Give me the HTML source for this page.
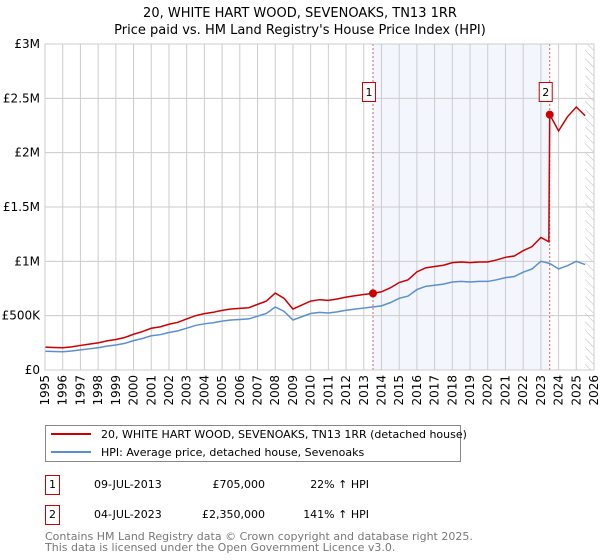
<!DOCTYPE html>
<html><head><meta charset="utf-8"><style>
body{margin:0;background:#fff;font-family:"Liberation Sans","DejaVu Sans",sans-serif;}
svg{display:block}
</style></head><body>
<svg id="c" width="600" height="560" xmlns="http://www.w3.org/2000/svg" font-family="DejaVu Sans, Liberation Sans, sans-serif">
<text x="300" y="17" text-anchor="middle" font-size="13">20, WHITE HART WOOD, SEVENOAKS, TN13 1RR</text>
<text x="300" y="34" text-anchor="middle" font-size="13">Price paid vs. HM Land Registry's House Price Index (HPI)</text>
<g id="plot"></g>
<g>
<rect x="45.5" y="425.5" width="415" height="36" fill="#fff" stroke="#888"/>
<line x1="51" y1="434" x2="91" y2="434" stroke="#cc0000" stroke-width="2"/>
<text x="101" y="438" font-size="11">20, WHITE HART WOOD, SEVENOAKS, TN13 1RR (detached house)</text>
<line x1="51" y1="452" x2="91" y2="452" stroke="#5b8fd0" stroke-width="2"/>
<text x="101" y="456" font-size="11">HPI: Average price, detached house, Sevenoaks</text>
</g>
<g font-size="11">
<rect x="45.5" y="475.5" width="14" height="19" fill="#fff" stroke="#cc0000"/>
<text x="52.5" y="488" text-anchor="middle">1</text>
<text x="94" y="488">09-JUL-2013</text>
<text x="265" y="488" text-anchor="end">£705,000</text>
<text x="369" y="488" text-anchor="end">22% ↑ HPI</text>
<rect x="45.5" y="505.5" width="14" height="19" fill="#fff" stroke="#cc0000"/>
<text x="52.5" y="518" text-anchor="middle">2</text>
<text x="94" y="518">04-JUL-2023</text>
<text x="265" y="518" text-anchor="end">£2,350,000</text>
<text x="369" y="518" text-anchor="end">141% ↑ HPI</text>
</g>
<text x="45" y="540" font-size="11" fill="#777">Contains HM Land Registry data © Crown copyright and database right 2025.</text>
<text x="45" y="551" font-size="11" fill="#777">This data is licensed under the Open Government Licence v3.0.</text>
</svg>
<script>
const hpiYears=[1995,1995.5,1996,1996.5,1997,1997.5,1998,1998.5,1999,1999.5,2000,2000.5,2001,2001.5,2002,2002.5,2003,2003.5,2004,2004.5,2005,2005.5,2006,2006.5,2007,2007.5,2008,2008.5,2009,2009.5,2010,2010.5,2011,2011.5,2012,2012.5,2013,2013.5,2014,2014.5,2015,2015.5,2016,2016.5,2017,2017.5,2018,2018.5,2019,2019.5,2020,2020.5,2021,2021.5,2022,2022.5,2023,2023.5,2024,2024.5,2025,2025.5];
const hpiValues=[172,170,168,175,185,195,205,220,230,245,270,290,315,325,345,360,385,410,425,435,450,460,465,470,495,520,580,540,460,490,520,530,525,535,550,560,570,580,590,620,660,680,740,770,780,790,810,815,810,815,815,830,850,860,900,930,1000,980,930,960,1000,970];
const priceYears=[1995,1995.5,1996,1996.5,1997,1997.5,1998,1998.5,1999,1999.5,2000,2000.5,2001,2001.5,2002,2002.5,2003,2003.5,2004,2004.5,2005,2005.5,2006,2006.5,2007,2007.5,2008,2008.5,2009,2009.5,2010,2010.5,2011,2011.5,2012,2012.5,2013,2013.52,2014,2014.5,2015,2015.5,2016,2016.5,2017,2017.5,2018,2018.5,2019,2019.5,2020,2020.5,2021,2021.5,2022,2022.5,2023,2023.45,2023.5,2024,2024.5,2025,2025.5];
const priceValues=[210,207,205,213,226,238,250,268,281,299,329,354,384,397,421,439,470,500,519,531,549,561,567,573,604,634,708,659,561,598,634,647,641,653,671,683,695,705,720,756,805,830,903,940,952,964,988,994,988,994,994,1013,1037,1049,1098,1135,1220,1180,2350,2200,2330,2420,2340];
const saleYears=[2013.52,2023.5];
const saleValues=[705,2350];
const saleLabels=["1","2"];
const yTicks=[0,500,1000,1500,2000,2500,3000];
const yTickLabels=["£0","£500K","£1M","£1.5M","£2M","£2.5M","£3M"];
const xTicks=[1995,1996,1997,1998,1999,2000,2001,2002,2003,2004,2005,2006,2007,2008,2009,2010,2011,2012,2013,2014,2015,2016,2017,2018,2019,2020,2021,2022,2023,2024,2025,2026];

const L=45,R=594,T=44,B=370,NS="http://www.w3.org/2000/svg";
const xs=t=>L+(t-1995)/(2026-1995)*(R-L);
const ys=v=>B-v/3000*(B-T);
const g=document.getElementById('plot');
function mk(tag,attrs,parent){const e=document.createElementNS(NS,tag);for(const k in attrs)e.setAttribute(k,attrs[k]);(parent||g).appendChild(e);return e;}
const bg=mk('rect',{x:L,y:T,width:R-L,height:B-T,fill:'#fff'});


const sh=mk('rect',{x:xs(2013.52),y:T,width:xs(2023.5)-xs(2013.52),height:B-T,fill:'#eef2fc',opacity:0.7});


const defs=mk('defs',{});
const pat=mk('pattern',{id:'hatch',width:6,height:6,patternUnits:'userSpaceOnUse',patternTransform:'rotate(-45)'},defs);
mk('line',{x1:0,y1:0,x2:0,y2:6,stroke:'#bbb','stroke-width':1},pat);
const hz=mk('rect',{x:xs(2025.5),y:T,width:R-xs(2025.5),height:B-T,fill:'url(#hatch)'});


xTicks.forEach(t=>{
  const l=mk('line',{x1:xs(t),y1:T,x2:xs(t),y2:B,stroke:'#ccc','stroke-width':1});
  
  
  const tx=mk('text',{x:0,y:0,'font-size':12,'text-anchor':'end',transform:`translate(${xs(t)+4},${B+5}) rotate(-90)`});
  tx.textContent=t;
  
  
});
yTicks.forEach((v,i)=>{
  const l=mk('line',{x1:L,y1:ys(v),x2:R,y2:ys(v),stroke:'#ccc','stroke-width':1});
  
  
  const tx=mk('text',{x:40,y:ys(v)+4,'font-size':12,'text-anchor':'end'});
  tx.textContent=yTickLabels[i];
  
  
});
saleYears.forEach(t=>{
  const l=mk('line',{x1:xs(t),y1:T,x2:xs(t),y2:B,stroke:'#e06060','stroke-width':1,'stroke-dasharray':'2,2'});
  
  
});
const hp=mk('polyline',{points:hpiYears.map((t,i)=>xs(t)+','+ys(hpiValues[i])).join(' '),fill:'none',stroke:'#5b8fd0','stroke-width':1.5});


const pp=mk('polyline',{points:priceYears.map((t,i)=>xs(t)+','+ys(priceValues[i])).join(' '),fill:'none',stroke:'#cc0000','stroke-width':1.5});


saleYears.forEach((t,i)=>{
  const c=mk('circle',{cx:xs(t),cy:ys(saleValues[i]),r:4,fill:'#cc0000'});
  
  
  const r=mk('rect',{x:xs(t)-10.5,y:82.5,width:13,height:19,fill:'#fff',stroke:'#cc0000'});
  
  
  const tx=mk('text',{x:xs(t)-4,y:96,'font-size':11,'text-anchor':'middle'});
  tx.textContent=saleLabels[i];
  
  
});
const ax=mk('rect',{x:L,y:T,width:R-L,height:B-T,fill:'none',stroke:'#ccc'});


</script>
</body></html>
